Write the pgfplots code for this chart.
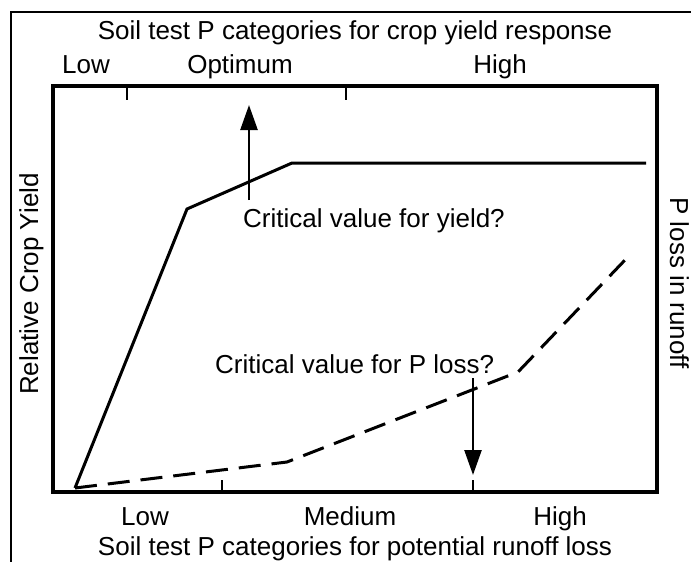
\documentclass[border=0pt]{standalone}
\usepackage{pgfplots}
\pgfplotsset{compat=1.18}
\usepackage{fontspec}
\setmainfont{Liberation Sans}
\usetikzlibrary{arrows.meta}
\newcommand{\bigf}{\fontsize{26}{31}\selectfont}
\begin{document}
\begin{tikzpicture}[x=1pt,y=1pt]
\path[use as bounding box] (0,0) rectangle (691,-562);
\draw[line width=2pt] (11,-562) -- (11,-12) -- (691,-12);
\begin{axis}[at={(53pt,-492pt)}, anchor=south west, scale only axis,
  width=604pt, height=406pt, xmin=0, xmax=604, ymin=0, ymax=406,
  axis line style={line width=4pt, line cap=rect}, ytick=\empty,
  xtick={169,420}, xticklabels={}, xtick pos=bottom, xtick align=inside,
  major tick length=12pt, tick style={line width=2pt, black}, clip=false]
\addplot[line width=3pt, black, line join=miter] coordinates {(22,4) (134,283) (239,329) (593,329)};
\addplot[line width=3pt, black, dash pattern=on 22pt off 11pt] coordinates {(22,4) (234,30) (465,120) (572,232)};
\draw[line width=2pt] (axis cs:74,406) -- (axis cs:74,392);
\draw[line width=2pt] (axis cs:293,406) -- (axis cs:293,392);
\draw[line width=2.5pt, -{Triangle[length=25pt,width=17pt]}] (axis cs:196,292) -- (axis cs:196,387);
\draw[line width=2.5pt, -{Triangle[length=25pt,width=17pt]}] (axis cs:420,114) -- (axis cs:420,17);
\node[anchor=base west, inner sep=0pt, font=\bigf] at (axis cs:190,265) {Critical value for yield?};
\node[anchor=base west, inner sep=0pt, font=\bigf] at (axis cs:162,119) {Critical value for P loss?};
\end{axis}
\begin{scope}[every node/.style={font=\bigf, inner sep=0pt}]
\node[anchor=base] at (355,-39) {Soil test P categories for crop yield response};
\node[anchor=base] at (86,-73) {Low};
\node[anchor=base] at (240,-73) {Optimum};
\node[anchor=base] at (500,-73) {High};
\node[anchor=base] at (145,-525) {Low};
\node[anchor=base] at (350,-525) {Medium};
\node[anchor=base] at (560,-525) {High};
\node[anchor=base] at (355,-555) {Soil test P categories for potential runoff loss};
\node[anchor=base, rotate=90] at (38,-284) {Relative Crop Yield};
\node[anchor=base, rotate=-90] at (670,-283) {P loss in runoff};
\end{scope}
\end{tikzpicture}
\end{document}
